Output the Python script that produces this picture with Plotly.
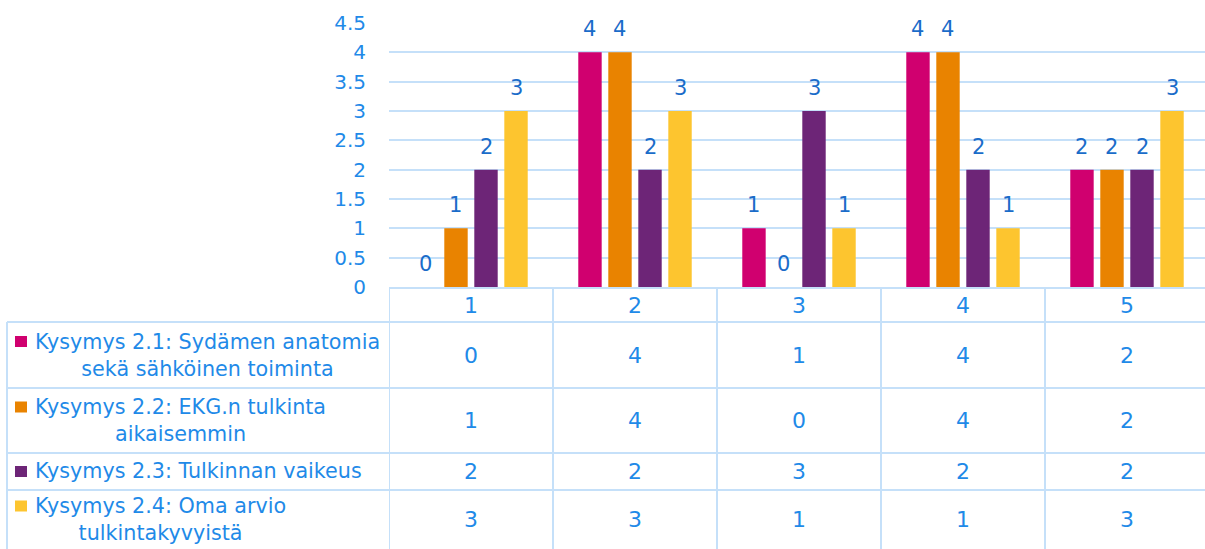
import plotly.graph_objects as go

# ---------------- data ----------------
categories = [1, 2, 3, 4, 5]
category_labels = ["1", "2", "3", "4", "5"]
series_names = [
    "Kysymys 2.1: Sydämen anatomia sekä sähköinen toiminta",
    "Kysymys 2.2: EKG.n tulkinta aikaisemmin",
    "Kysymys 2.3: Tulkinnan vaikeus",
    "Kysymys 2.4: Oma arvio tulkintakyvyistä",
]
series_label_lines = [
    ["Kysymys 2.1: Sydämen anatomia", "sekä sähköinen toiminta"],
    ["Kysymys 2.2: EKG.n tulkinta", "aikaisemmin"],
    ["Kysymys 2.3: Tulkinnan vaikeus"],
    ["Kysymys 2.4: Oma arvio", "tulkintakyvyistä"],
]
s21 = [0, 4, 1, 4, 2]
s22 = [1, 4, 0, 4, 2]
s23 = [2, 2, 3, 2, 2]
s24 = [3, 3, 1, 1, 3]
series_values = [s21, s22, s23, s24]
y_ticks = [0, 0.5, 1, 1.5, 2, 2.5, 3, 3.5, 4, 4.5]

# ---------------- style / layout constants ----------------
colors = ["#d0006f", "#e98300", "#6d2577", "#fdc52f"]
W, H = 1205, 549
L, T, PB = 389, 23, 287          # plot left, plot top, plot bottom (px)
PW, PH = W - L, PB - T
CAT_PX = 164                     # pixel width of one category column
BARGAP, BARGROUPGAP = 0.268, 0.22
FONT = "DejaVu Sans"
TICK_COLOR = "#1f8ae8"
LABEL_COLOR = "#1a6cc9"
TABLE_TEXT = "#1f8ae8"
LINE_COLOR = "#c5e0f9"
TABLE_FS = 20.7
VALUE_FS = 22
row_lines = [322, 388, 453, 490]  # table horizontal lines (px)
row_bounds = [288, 322, 388, 453, 490, 549]
table_left = 7
key_x0, key_x1 = 15, 27
text_left = 33
line_step = 27


def xp(px):
    return (px - L) / PW


def yp(py):
    return (PB - py) / PH


fig = go.Figure()
for name, vals, col in zip(series_names, series_values, colors):
    fig.add_trace(go.Bar(x=categories, y=vals, name=name, marker_color=col,
                         marker_line_width=0, hoverinfo="y"))

# data labels above bars
n = len(series_values)
gw = 1 - BARGAP
slot = gw / n
for i, vals in enumerate(series_values):
    off = -gw / 2 + slot * (i + 0.5)
    for c, v in zip(categories, vals):
        fig.add_annotation(x=c + off, y=v, xref="x", yref="y", text=str(v),
                           showarrow=False, yanchor="bottom", yshift=9,
                           font=dict(family=FONT, size=21, color=LABEL_COLOR))

shapes = []
# axis line / header top
shapes.append(dict(type="line", xref="paper", yref="paper", x0=0, x1=1,
                   y0=yp(288), y1=yp(288), line=dict(color=LINE_COLOR, width=2)))
for r in row_lines:
    shapes.append(dict(type="line", xref="paper", yref="paper", x0=xp(table_left), x1=1,
                       y0=yp(r), y1=yp(r), line=dict(color=LINE_COLOR, width=2)))
shapes.append(dict(type="line", xref="paper", yref="paper", x0=xp(table_left), x1=xp(table_left),
                   y0=yp(322), y1=yp(H + 5), line=dict(color=LINE_COLOR, width=2)))
for c in categories:
    shapes.append(dict(type="line", xref="x", yref="paper", x0=c - 0.5, x1=c - 0.5,
                       y0=yp(288), y1=yp(H + 5), line=dict(color=LINE_COLOR, width=2)))

# header row (category labels)
hc = (row_bounds[0] + row_bounds[1]) / 2
for c, lab in zip(categories, category_labels):
    fig.add_annotation(x=c, y=yp(hc), xref="x", yref="paper", text=lab, showarrow=False,
                       yanchor="middle", font=dict(family=FONT, size=VALUE_FS, color=TABLE_TEXT))

# table rows
for i, (lines, vals, col) in enumerate(zip(series_label_lines, series_values, colors)):
    top, bot = row_bounds[i + 1], row_bounds[i + 2]
    rc = (top + bot) / 2
    first_c = rc - line_step * (len(lines) - 1) / 2
    shapes.append(dict(type="rect", xref="paper", yref="paper",
                       x0=xp(key_x0), x1=xp(key_x1), y0=yp(first_c - 5.5), y1=yp(first_c + 5.5),
                       fillcolor=col, line=dict(width=0)))
    fig.add_annotation(x=xp(text_left), y=yp(rc), xref="paper", yref="paper",
                       text="<br>".join(lines), showarrow=False, xanchor="left",
                       yanchor="middle", align="center",
                       font=dict(family=FONT, size=TABLE_FS, color=TABLE_TEXT))
    for c, v in zip(categories, vals):
        fig.add_annotation(x=c, y=yp(rc), xref="x", yref="paper", text=str(v),
                           showarrow=False, yanchor="middle",
                           font=dict(family=FONT, size=VALUE_FS, color=TABLE_TEXT))

fig.update_layout(
    width=W, height=H,
    margin=dict(l=L, r=0, t=T, b=H - PB, pad=0),
    paper_bgcolor="white", plot_bgcolor="white",
    barmode="group", bargap=BARGAP, bargroupgap=BARGROUPGAP,
    showlegend=False, shapes=shapes,
    font=dict(family=FONT),
)
fig.update_xaxes(range=[0.5, 0.5 + PW / CAT_PX], showticklabels=False, showgrid=False,
                 zeroline=False, showline=False, fixedrange=True)
fig.update_yaxes(range=[0, 4.5], tickvals=y_ticks, ticktext=[f"{t:g}" for t in y_ticks],
                 showgrid=True, gridcolor=LINE_COLOR, gridwidth=1.5, zeroline=False,
                 showline=False, ticks="", ticklabelstandoff=22,
                 tickfont=dict(family=FONT, size=20, color=TICK_COLOR), fixedrange=True)

fig.write_html("out.html")
